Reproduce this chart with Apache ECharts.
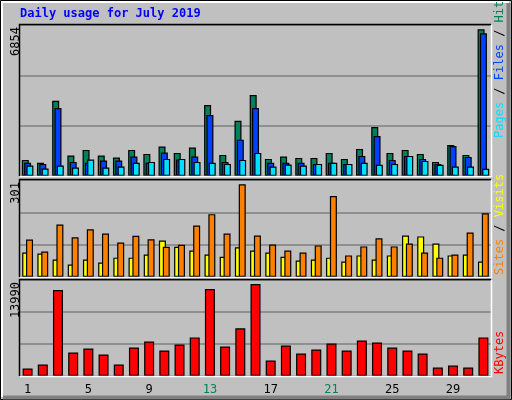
<!DOCTYPE html><html><head><meta charset="utf-8">
<script src="https://cdn.jsdelivr.net/npm/echarts@6/dist/echarts.min.js"></script>
<style>html,body{margin:0;padding:0;background:#c0c0c0}#c{width:512px;height:400px}</style></head><body><div id="c"></div><script>
const days=['1','2','3','4','5','6','7','8','9','10','11','12','13','14','15','16','17','18','19','20','21','22','23','24','25','26','27','28','29','30','31'];
const weekend=['6','7','13','14','20','21','27','28'];
const hits=[731,596,3416,927,1184,927,837,1184,1003,1335,1048,1289,3220,958,2511,3672,777,882,822,822,1048,777,1229,2224,1048,1184,1003,641,1410,958,6658];
const files=[596,550,3084,641,596,701,701,882,596,1063,746,882,2767,641,1651,3084,596,596,596,550,596,550,912,1817,731,912,777,550,1365,867,6477];
const pages=[475,339,475,385,746,385,430,596,641,777,777,641,596,550,731,1048,430,520,475,550,596,550,596,505,550,912,686,505,430,430,324];
const visits=[76,73,54,39,54,45,60,60,70,113,94,82,70,63,92,82,76,63,51,54,60,48,67,54,67,129,126,104,67,70,48];
const sites=[116,79,163,123,148,135,107,128,117,94,100,160,195,135,288,129,101,82,76,98,251,67,95,120,95,104,76,60,70,138,198];
const kbytes=[1076,1663,12519,3423,4010,3130,1663,4157,5037,3717,4597,5624,12665,4304,6944,13400,2250,4450,3277,3864,4744,3717,5184,4891,4157,3717,3277,1223,1516,1223,5624];
const maxLabels=['6854','301','13990'];
const maxVals=[6854,301,13990];
const F='"DejaVu Sans Mono", monospace';
const chart=echarts.init(document.getElementById('c'));
const panels=[[25,151],[180,97],[280,96]];
const grids=panels.map(p=>({left:20,top:p[0],width:471,height:p[1],show:true,backgroundColor:'#c0c0c0',borderWidth:0}));
const xAxes=[0,1,2].map(i=>({type:'category',gridIndex:i,data:days,axisLine:{show:false},axisTick:{show:false},
 axisLabel:i<2?{show:false}:{margin:8,fontFamily:F,fontSize:12,color:'#000',formatter:v=>weekend.includes(v)?'{w|'+v+'}':v,rich:{w:{color:'#00805c',fontFamily:F,fontSize:12}}}}));
const yAxes=[0,1,2].map(i=>({type:'value',gridIndex:i,min:0,max:maxVals[i],interval:maxVals[i]/3,axisLabel:{show:false},axisLine:{show:false},axisTick:{show:false},splitLine:{show:true,lineStyle:{color:'#808080',width:1.5}}}));
const bs=(name,d,c,i,w,gap)=>({name,type:'bar',data:d,xAxisIndex:i,yAxisIndex:i,barWidth:w,barGap:gap,itemStyle:{color:c,borderColor:'#000',borderWidth:1.2},animation:false,silent:true});
const series=[bs('Hits',hits,'#00805c',0,7,'-67%'),bs('Files',files,'#0040ff',0,7,'-67%'),bs('Pages',pages,'#00e0ff',0,7,'-67%'),
 bs('Visits',visits,'#ffff00',1,7,'-45%'),bs('Sites',sites,'#ff8000',1,7,'-45%'),bs('KBytes',kbytes,'#ff0000',2,10,'0%')];
const g=[];
// outer frame
g.push({type:'rect',shape:{x:0.5,y:0.5,width:511,height:399},style:{fill:null,stroke:'#000',lineWidth:1},z:-1});
g.push({type:'polyline',shape:{points:[[2,397],[2,2],[509,2]]},style:{stroke:'#fff',lineWidth:2,fill:null}});
g.push({type:'polyline',shape:{points:[[3,397.5],[508.5,397.5],[508.5,3]]},style:{stroke:'#808080',lineWidth:4,fill:null}});
panels.forEach(p=>{
 g.push({type:'polyline',shape:{points:[[19.5,p[0]+p[1]],[19.5,p[0]-0.5],[491,p[0]-0.5]]},style:{stroke:'#000',lineWidth:1.5,fill:null},z:10});
 g.push({type:'polyline',shape:{points:[[20,p[0]+p[1]+0.5],[491.5,p[0]+p[1]+0.5],[491.5,p[0]]]},style:{stroke:'#fff',lineWidth:1.5,fill:null},z:10});
});
g.push({type:'text',x:20,y:8,style:{text:'Daily usage for July 2019',font:'bold 12px '+F,fill:'#0000ff'}});
panels.forEach((p,i)=>g.push({type:'text',x:10,y:p[0]+2,rotation:Math.PI/2,style:{text:maxLabels[i],font:'12px '+F,fill:'#000',align:'right',verticalAlign:'top'}}));
const sideText=(y,parts)=>g.push({type:'text',x:494,y:y,rotation:Math.PI/2,style:{text:parts.map(p=>'{'+p[1]+'|'+p[0]+'}').join(''),font:'12px '+F,align:'left',verticalAlign:'top',
 rich:{c:{fill:'#00e0ff',font:'12px '+F},b:{fill:'#0040ff',font:'12px '+F},g:{fill:'#00805c',font:'12px '+F},k:{fill:'#000',font:'12px '+F},y:{fill:'#ffff00',font:'12px '+F},o:{fill:'#ff8000',font:'12px '+F},r:{fill:'#ff0000',font:'12px '+F}}}});
sideText(138,[['Pages','c'],[' / ','k'],['Files','b'],[' / ','k'],['Hits','g']]);
sideText(275,[['Sites','o'],[' / ','k'],['Visits','y']]);
sideText(374,[['KBytes','r']]);
chart.setOption({animation:false,backgroundColor:'#c0c0c0',grid:grids,xAxis:xAxes,yAxis:yAxes,series,graphic:g});
</script></body></html>
